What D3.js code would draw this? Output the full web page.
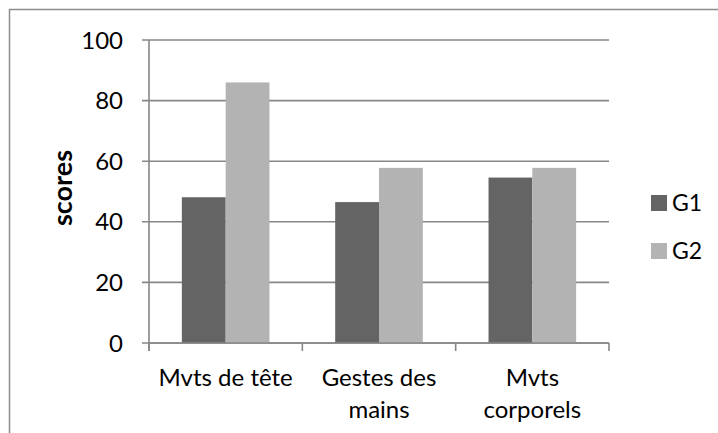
<!DOCTYPE html>
<html>
<head>
<meta charset="utf-8">
<script src="https://cdn.jsdelivr.net/npm/d3@7"></script>
<style>
  body { margin: 0; background: #fff; }
  svg { display: block; font-family: Lato, "Open Sans", sans-serif; }
</style>
</head>
<body>
<script>
//chart data
var categories = ["Mvts de tête", "Gestes des mains", "Mvts corporels"];
var catLines = [["Mvts de tête"], ["Gestes des", "mains"], ["Mvts", "corporels"]];
var seriesNames = ["G1", "G2"];
var g1Values = [48.1, 46.5, 54.6];
var g2Values = [86.0, 57.8, 57.8];
var yTicks = [0, 20, 40, 60, 80, 100];

var colors = {G1: "#646464", G2: "#b3b3b3"};

var width = 718, height = 433;

var svg = d3.select("body").append("svg")
    .attr("width", width)
    .attr("height", height);

//outer chart border (continues off the right and bottom)
svg.append("rect")
    .attr("x", 9.5).attr("y", 9.5)
    .attr("width", 740).attr("height", 480)
    .attr("fill", "none")
    .attr("stroke", "#8c8c8c")
    .attr("stroke-width", 1.5);

var plot = {left: 149, right: 609, top: 40, bottom: 343};

var x0 = d3.scaleBand()
    .domain(categories)
    .range([plot.left, plot.right])
    .padding(0);

var x1 = d3.scaleBand()
    .domain(seriesNames)
    .range([0, x0.bandwidth()])
    .paddingInner(0)
    .paddingOuter(0.75);

var y = d3.scaleLinear()
    .domain([0, 100])
    .range([plot.bottom, plot.top]);

//gridlines
svg.append("g")
    .selectAll("line")
    .data(yTicks)
    .enter().append("line")
    .attr("x1", plot.left - 7)
    .attr("x2", plot.right)
    .attr("y1", function(d){ return y(d); })
    .attr("y2", function(d){ return y(d); })
    .attr("stroke", "#878787")
    .attr("stroke-width", 1.6);

//y tick labels
svg.append("g")
    .selectAll("text")
    .data(yTicks)
    .enter().append("text")
    .attr("x", 123)
    .attr("y", function(d){ return y(d); })
    .attr("dy", "0.36em")
    .attr("text-anchor", "end")
    .style("font-size", "24px")
    .attr("fill", "#000")
    .text(function(d){ return d; });

//bars
var data = categories.map(function(c, i){
    return {cat: c, values: [{s: "G1", v: g1Values[i]}, {s: "G2", v: g2Values[i]}]};
});

var groups = svg.append("g")
    .selectAll("g")
    .data(data)
    .enter().append("g")
    .attr("transform", function(d){ return "translate(" + x0(d.cat) + ",0)"; });

groups.selectAll("rect")
    .data(function(d){ return d.values; })
    .enter().append("rect")
    .attr("x", function(d){ return x1(d.s); })
    .attr("width", x1.bandwidth())
    .attr("y", function(d){ return y(d.v); })
    .attr("height", function(d){ return y(0) - y(d.v); })
    .attr("fill", function(d){ return colors[d.s]; });

//axes lines
svg.append("line")
    .attr("x1", plot.left).attr("x2", plot.left)
    .attr("y1", plot.top).attr("y2", plot.bottom + 8)
    .attr("stroke", "#878787").attr("stroke-width", 1.6);

svg.append("line")
    .attr("x1", plot.left).attr("x2", plot.right)
    .attr("y1", plot.bottom).attr("y2", plot.bottom)
    .attr("stroke", "#878787").attr("stroke-width", 1.6);

//x ticks at category boundaries
var bounds = categories.map(function(c){ return x0(c); }).concat([plot.right]);
svg.append("g")
    .selectAll("line")
    .data(bounds)
    .enter().append("line")
    .attr("x1", function(d){ return d; })
    .attr("x2", function(d){ return d; })
    .attr("y1", plot.bottom)
    .attr("y2", plot.bottom + 8)
    .attr("stroke", "#878787").attr("stroke-width", 1.6);

//category labels
var labels = svg.append("g")
    .selectAll("text")
    .data(catLines)
    .enter().append("text")
    .attr("text-anchor", "middle")
    .style("font-size", "24px")
    .attr("fill", "#000")
    .attr("transform", function(d, i){
        return "translate(" + (x0(categories[i]) + x0.bandwidth() / 2) + ",386)";
    });

labels.selectAll("tspan")
    .data(function(d){ return d; })
    .enter().append("tspan")
    .attr("x", 0)
    .attr("y", function(d, i){ return i * 32; })
    .text(function(d){ return d; });

//y axis title
svg.append("text")
    .attr("transform", "translate(72,188) rotate(-90)")
    .attr("text-anchor", "middle")
    .style("font-size", "27px")
    .style("font-weight", "bold")
    .attr("fill", "#000")
    .text("scores");

//legend
var legend = svg.append("g")
    .selectAll("g")
    .data(seriesNames)
    .enter().append("g")
    .attr("transform", function(d, i){ return "translate(651," + (195 + i * 48) + ")"; });

legend.append("rect")
    .attr("width", 16)
    .attr("height", 16)
    .attr("fill", function(d){ return colors[d]; });

legend.append("text")
    .attr("x", 21)
    .attr("y", 16)
    .style("font-size", "23px")
    .attr("fill", "#000")
    .text(function(d){ return d; });
</script>
</body>
</html>
